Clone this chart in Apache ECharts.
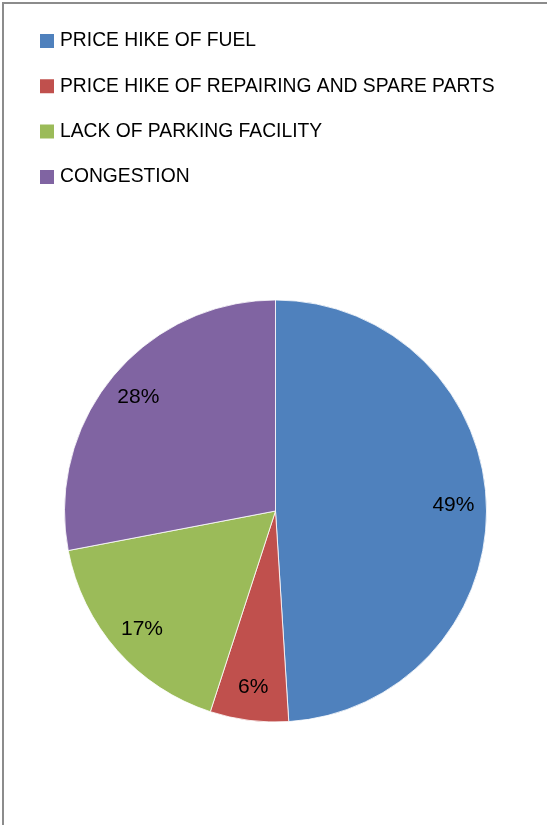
<!DOCTYPE html>
<html>
<head>
<meta charset="utf-8">
<script src="https://cdn.jsdelivr.net/npm/echarts@6/dist/echarts.min.js"></script>
<style>
  html, body { margin: 0; padding: 0; background: #fff; }
  #chart { width: 547px; height: 825px; }
</style>
</head>
<body>
<div id="chart"></div>
<script>
// Problems reported by respondents (percent shares)
const categories = [
  'PRICE HIKE OF FUEL',
  'PRICE HIKE OF REPAIRING AND SPARE PARTS',
  'LACK OF PARKING FACILITY',
  'CONGESTION'
];
const shares = [49, 6, 17, 28];
const colors = ['#4F81BD', '#C0504D', '#9BBB59', '#8064A2'];

const data = categories.map((name, i) => ({ name: name, value: shares[i] }));

const chart = echarts.init(document.getElementById('chart'), null, { renderer: 'canvas' });

const center = [275.5, 511];
const radius = 211;

chart.setOption({
  animation: false,
  backgroundColor: '#ffffff',
  color: colors,
  graphic: [{
    type: 'rect',
    shape: { x: 3, y: 3, width: 700, height: 1000 },
    style: { fill: 'none', stroke: '#8c8c8c', lineWidth: 2 },
    silent: true
  }],
  legend: {
    orient: 'vertical',
    left: 38,
    top: 30,
    padding: 0,
    itemWidth: 16,
    itemHeight: 16,
    itemGap: 23.3,
    icon: 'rect',
    textStyle: {
      fontFamily: 'Liberation Sans',
      fontSize: 19.3,
      lineHeight: 22,
      color: '#000'
    },
    data: categories
  },
  series: [
    {
      type: 'pie',
      center: center,
      radius: radius,
      startAngle: 90,
      clockwise: true,
      label: { show: false },
      labelLine: { show: false },
      itemStyle: { borderColor: '#ffffff', borderWidth: 0.8 },
      emphasis: { disabled: true },
      data: data
    },
    {
      // transparent ring used only to place the percentage labels
      type: 'pie',
      center: center,
      radius: [148, 202],
      startAngle: 90,
      clockwise: true,
      silent: true,
      legendHoverLink: false,
      itemStyle: { color: 'transparent', borderWidth: 0 },
      emphasis: { disabled: true },
      label: {
        show: true,
        position: 'inside',
        formatter: p => p.value + '%',
        fontFamily: 'Liberation Sans',
        fontSize: 21,
        color: '#000'
      },
      labelLine: { show: false },
      data: data
    }
  ]
});
</script>
</body>
</html>
